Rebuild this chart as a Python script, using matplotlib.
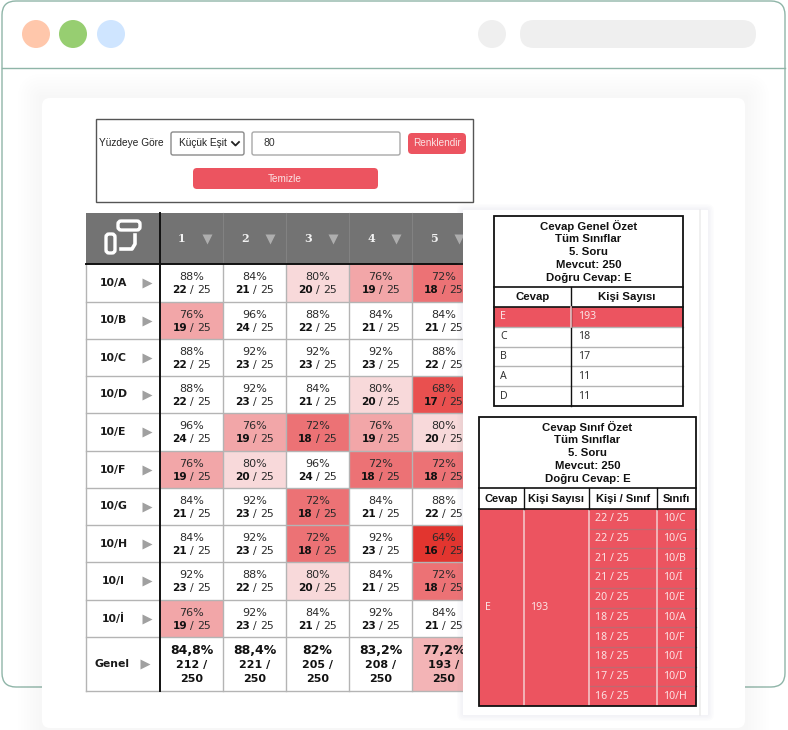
import matplotlib
matplotlib.use("Agg")
import matplotlib.pyplot as plt
from matplotlib.patches import Rectangle, FancyBboxPatch, Circle

# veriler
siniflar = ["10/A", "10/B", "10/C", "10/D", "10/E", "10/F", "10/G", "10/H", "10/I", "10/İ"]
sorular = ["1", "2", "3", "4", "5"]
dogru = [
    [22, 21, 20, 19, 18],
    [19, 24, 22, 21, 21],
    [22, 23, 23, 23, 22],
    [22, 23, 21, 20, 17],
    [24, 19, 18, 19, 20],
    [19, 20, 24, 18, 18],
    [21, 23, 18, 21, 22],
    [21, 23, 18, 23, 16],
    [23, 22, 20, 21, 18],
    [19, 23, 21, 23, 21],
]
yuzdeler = [
    [88, 84, 80, 76, 72],
    [76, 96, 88, 84, 84],
    [88, 92, 92, 92, 88],
    [88, 92, 84, 80, 68],
    [96, 76, 72, 76, 80],
    [76, 80, 96, 72, 72],
    [84, 92, 72, 84, 88],
    [84, 92, 72, 92, 64],
    [92, 88, 80, 84, 72],
    [76, 92, 84, 92, 84],
]
genel_yuzde = ["84,8%", "88,4%", "82%", "83,2%", "77,2%"]
genel_sayi = [212, 221, 205, 208, 193]
mevcut = 250
sinif_mevcut = 25

ozet_cevap = ["E", "C", "B", "A", "D"]
ozet_kisi = [193, 18, 17, 11, 11]
sinif_kisi = [22, 22, 21, 21, 20, 18, 18, 18, 17, 16]
sinif_adi = ["10/C", "10/G", "10/B", "10/İ", "10/E", "10/A", "10/F", "10/I", "10/D", "10/H"]
baslik1 = ["Cevap Genel Özet", "Tüm Sınıflar", "5. Soru", "Mevcut: 250", "Doğru Cevap: E"]
baslik2 = ["Cevap Sınıf Özet", "Tüm Sınıflar", "5. Soru", "Mevcut: 250", "Doğru Cevap: E"]

renkler = {64: "#E2352F", 68: "#E9504F", 72: "#EC7275", 76: "#F2A6A8", 80: "#F8D9DA"}
KIRMIZI = "#EC5460"
CIZGI = "#b4b4b4"
KOYU = "#2b2b2b"
NOTO = "Noto Sans"
LIB = "Liberation Sans"

fig = plt.figure(figsize=(7.88, 7.30), dpi=100)
ax = fig.add_axes([0, 0, 1, 1])
ax.set_xlim(0, 788)
ax.set_ylim(730, 0)
ax.axis("off")


def kutu(x0, y0, x1, y1, r=0, fc="none", ec="none", lw=0, z=1, alpha=None):
    if r > 0:
        p = FancyBboxPatch((x0 + r, y0 + r), x1 - x0 - 2 * r, y1 - y0 - 2 * r,
                           boxstyle="round,pad=%f,rounding_size=%f" % (r, r),
                           fc=fc, ec=ec, lw=lw, zorder=z, alpha=alpha)
    else:
        p = Rectangle((x0, y0), x1 - x0, y1 - y0, fc=fc, ec=ec, lw=lw, zorder=z, alpha=alpha)
    ax.add_patch(p)


def golge(x0, y0, x1, y1, z, adim=8, bas=24, alpha=0.008):
    for i in range(adim, 0, -1):
        g = bas * i / adim
        kutu(x0 - g, y0 - g, x1 + g, y1 + g, r=g + 1, fc="#8a8a9a", z=z, alpha=alpha)


def yaz(x, y, s, size=8.5, weight="normal", color=KOYU, ha="center", z=6, family="DejaVu Sans"):
    ax.text(x, y, s, fontsize=size, fontweight=weight, color=color, ha=ha, va="center",
            zorder=z, family=family)


# pencere
kutu(2, 1, 785, 687, r=14, fc="white", ec="#8fb5a8", lw=1, z=1)
ax.plot([2, 785], [67.5, 67.5], color="#8fb5a8", lw=1, zorder=2)
for cx, c in zip([36, 73, 111, 492], ["#FFC7AB", "#97CE71", "#CFE5FF", "#EFEFEF"]):
    ax.add_patch(Circle((cx, 34), 14, fc=c, ec="none", zorder=2))
kutu(520, 20, 756, 48, r=14, fc="#EFEFEF", z=2)

# kart
golge(42, 98, 745, 728, 2)
kutu(42, 98, 745, 728, r=8, fc="white", z=3)

# form
kutu(96.5, 118.5, 473.5, 202, ec="#555555", lw=1, z=4)
yaz(99, 143.5, "Yüzdeye Göre", size=7.3, ha="left", color="#222222", family=LIB)
kutu(171, 132, 244, 155, r=2, fc="white", ec="#8a8a8a", lw=1, z=4)
yaz(179, 143.5, "Küçük Eşit", size=7.3, ha="left", color="#222222", family=LIB)
ax.plot([232, 235.5, 239], [142, 145.5, 142], color="#222222", lw=1.3, zorder=5)
kutu(252, 132, 400, 155, r=2, fc="white", ec="#a8a8a8", lw=1, z=4)
yaz(264, 143.5, "80", size=7.6, ha="left", color="#333333", family=LIB)
kutu(408, 133, 466, 154, r=4, fc=KIRMIZI, z=4)
yaz(437, 143.5, "Renklendir", size=7.2, color="#FBE3E4", family=LIB)
kutu(193, 168, 378, 189, r=4, fc=KIRMIZI, z=4)
yaz(285, 178.5, "Temizle", size=7.2, color="#FBE3E4", family=LIB)

# ana tablo
xs = [160, 223, 286, 349, 412, 475]
sol = 86
ust = 213
ys = [264, 302, 339, 376, 413, 451, 488, 525, 562, 600, 637]
alt = 691

kutu(sol, ust, xs[-1], ys[0], fc="#737373", z=4)
for x in xs[1:-1]:
    ax.plot([x, x], [ust, ys[0]], color="#828282", lw=0.8, zorder=4)
for j, s in enumerate(sorular):
    yaz(xs[j] + 22, 239, s, size=8.0, weight="bold", color="#F2F2F2", family="DejaVu Serif")
    ax.plot(xs[j] + 47, 239, marker="v", ms=7.5, color="#AEAEAE", mec="none", zorder=5)

# sol ustteki simge
kutu(118, 221, 140, 230, r=3, ec="white", lw=2.4, z=5)
kutu(106, 234, 115, 253, r=3, ec="white", lw=2.4, z=5)
ax.plot([135, 135, 132, 121], [235, 244, 249, 249], color="white", lw=2.6, zorder=5)

for i, sinif in enumerate(siniflar):
    y0, y1 = ys[i], ys[i + 1]
    ym = (y0 + y1) / 2
    yaz(113.5, ym, sinif, size=7.8, weight="bold", color="#1a1a1a")
    ax.plot(147, ym, marker=">", ms=6.5, color="#A0A0A0", mec="none", zorder=5)
    for j in range(5):
        x0, x1 = xs[j], xs[j + 1]
        cx = (x0 + x1) / 2
        p = yuzdeler[i][j]
        kutu(x0, y0, x1, y1, fc=renkler.get(p, "white"), z=4)
        yaz(cx, ym - 5.8, "%d%%" % p, size=8.0)
        yaz(cx - 4.5, ym + 7.2, str(dogru[i][j]), size=7.6, weight="bold", color="#111111", ha="right")
        yaz(cx + 0.5, ym + 7.2, "/", size=7.8)
        yaz(cx + 5.5, ym + 7.2, str(sinif_mevcut), size=7.8, ha="left")

# genel satiri
ym = (ys[-1] + alt) / 2
yaz(112, ym, "Genel", size=7.8, weight="bold", color="#1a1a1a")
ax.plot(145, ym, marker=">", ms=7.5, color="#A0A0A0", mec="none", zorder=5)
kutu(xs[4], ys[-1], xs[5], alt, fc="#F3B4B6", z=4)
for j in range(5):
    cx = (xs[j] + xs[j + 1]) / 2
    yaz(cx, ym - 13, genel_yuzde[j], size=9.0, weight="bold", color="#111111")
    yaz(cx, ym + 1, "%d /" % genel_sayi[j], size=8.0, weight="bold", color="#111111")
    yaz(cx, ym + 15, str(mevcut), size=8.0, weight="bold", color="#111111")

# tablo cizgileri
for y in ys[1:] + [alt]:
    ax.plot([sol, xs[-1]], [y, y], color=CIZGI, lw=1, zorder=5)
for x in [sol] + xs[1:-1]:
    ax.plot([x, x], [ys[0], alt], color=CIZGI, lw=1, zorder=5)
ax.plot([160, 160], [ust, alt], color="#111111", lw=1.4, zorder=5)
ax.plot([sol, xs[-1]], [264, 264], color="#111111", lw=1.4, zorder=5)

# sag panel
golge(463, 210, 708, 715, 6, adim=4, bas=6, alpha=0.02)
kutu(463, 210, 708, 715, fc="white", z=7)
ax.plot([700, 700], [210, 715], color="#EDEDED", lw=1.2, zorder=7)

# ozet tablo 1
x0, x1, xb = 494, 683, 571
yb = 287
yh = 307
satir = (406 - yh) / len(ozet_cevap)
for k, s in enumerate(baslik1):
    yaz((x0 + x1) / 2, 226.5 + k * 12.8, s, size=8.2, weight="bold", color="#111111", z=9, family=LIB)
yaz((x0 + xb) / 2, 297, "Cevap", size=8.2, weight="bold", color="#111111", z=9, family=LIB)
yaz((xb + x1) / 2, 297, "Kişi Sayısı", size=8.2, weight="bold", color="#111111", z=9, family=LIB)
for k, (c, n) in enumerate(zip(ozet_cevap, ozet_kisi)):
    y = yh + k * satir
    ilk = k == 0
    if ilk:
        kutu(x0, y, x1, y + satir, fc=KIRMIZI, z=8)
    else:
        ax.plot([x0, x1], [y, y], color=CIZGI, lw=1, zorder=8)
    renk = "#FBE3E4" if ilk else "#333333"
    yaz(x0 + 6, y + satir / 2, c, size=7.6, color=renk, ha="left", z=9, family=NOTO)
    yaz(xb + 7, y + satir / 2, str(n), size=7.6, color=renk, ha="left", z=9, family=NOTO)
kutu(x0, 216, x1, 406, ec="#111111", lw=1.3, z=10)
ax.plot([x0, x1], [yb, yb], color="#111111", lw=1.2, zorder=10)
ax.plot([x0, x1], [yh, yh], color="#111111", lw=1.2, zorder=10)
ax.plot([xb, xb], [yb, 406], color="#111111", lw=1, zorder=10)
ax.plot([xb, xb], [yh, yh + satir], color="#F4C3C6", lw=1.2, zorder=11)

# ozet tablo 2
xk = [479, 524, 589, 657, 696]
yb = 488
yh = 509
ya = 706
satir = (ya - yh) / len(sinif_kisi)
for k, s in enumerate(baslik2):
    yaz((xk[0] + xk[-1]) / 2, 427.5 + k * 12.8, s, size=8.2, weight="bold", color="#111111", z=9, family=LIB)
for j, s in enumerate(["Cevap", "Kişi Sayısı", "Kişi / Sınıf", "Sınıfı"]):
    yaz((xk[j] + xk[j + 1]) / 2, 499, s, size=8.0, weight="bold", color="#111111", z=9, family=LIB)
kutu(xk[0], yh, xk[-1], ya, fc=KIRMIZI, z=8)
yaz(xk[0] + 6, (yh + ya) / 2, ozet_cevap[0], size=7.6, color="#FBE3E4", ha="left", z=9, family=NOTO)
yaz(xk[1] + 6, (yh + ya) / 2, str(ozet_kisi[0]), size=7.6, color="#FBE3E4", ha="left", z=9, family=NOTO)
for k, (n, s) in enumerate(zip(sinif_kisi, sinif_adi)):
    y = yh + k * satir
    if k > 0:
        ax.plot([xk[2], xk[-1]], [y, y], color="#BE6A70", lw=0.9, zorder=9)
    yaz(xk[2] + 6, y + satir / 2, "%d / %d" % (n, sinif_mevcut), size=7.6, color="#FBE3E4", ha="left", z=9, family=NOTO)
    yaz(xk[3] + 6, y + satir / 2, s, size=7.6, color="#FBE3E4", ha="left", z=9, family=NOTO)
for x in xk[1:-1]:
    ax.plot([x, x], [yh, ya], color="#F4C3C6", lw=1.2, zorder=9)
    ax.plot([x, x], [yb, yh], color="#111111", lw=1, zorder=10)
kutu(xk[0], 417, xk[-1], ya, ec="#111111", lw=1.3, z=10)
ax.plot([xk[0], xk[-1]], [yb, yb], color="#111111", lw=1.2, zorder=10)
ax.plot([xk[0], xk[-1]], [yh, yh], color="#111111", lw=1.2, zorder=10)

fig.savefig("out.png", dpi=100, facecolor="white")
